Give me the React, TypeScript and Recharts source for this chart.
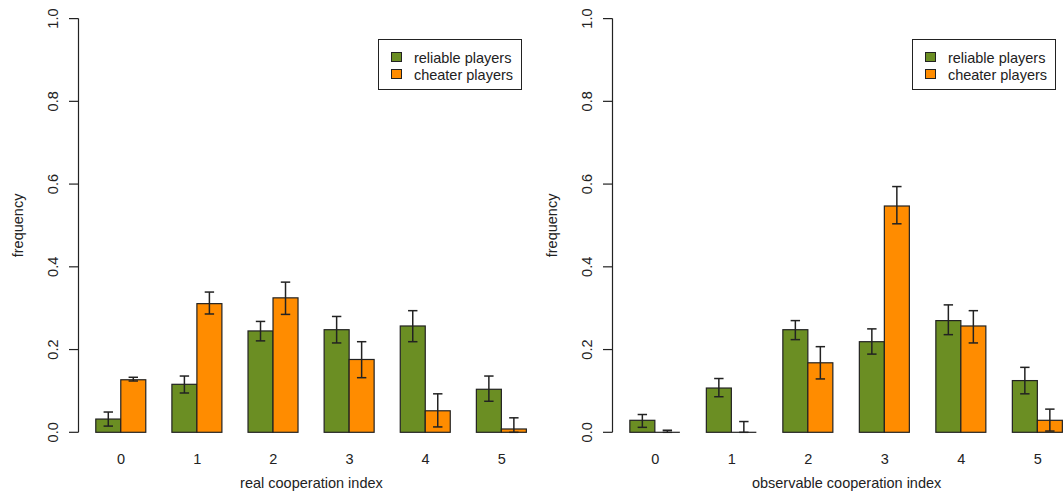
import React from 'react';
import { BarChart, Bar, XAxis, YAxis, ErrorBar, Legend } from 'recharts';

const categories = ['0', '1', '2', '3', '4', '5'];
const yTicks = [0, 0.2, 0.4, 0.6, 0.8, 1.0];

// Left panel: real cooperation index
const realReliable = [0.032, 0.116, 0.245, 0.248, 0.257, 0.104];
const realReliableLow = [0.015, 0.095, 0.221, 0.216, 0.219, 0.075];
const realReliableHigh = [0.049, 0.136, 0.268, 0.280, 0.294, 0.136];
const realCheater = [0.127, 0.311, 0.325, 0.176, 0.052, 0.008];
const realCheaterLow = [0.124, 0.286, 0.285, 0.132, 0.013, 0.0];
const realCheaterHigh = [0.133, 0.339, 0.363, 0.219, 0.093, 0.035];

// Right panel: observable cooperation index
const obsReliable = [0.029, 0.107, 0.248, 0.219, 0.270, 0.125];
const obsReliableLow = [0.012, 0.086, 0.224, 0.189, 0.236, 0.093];
const obsReliableHigh = [0.043, 0.130, 0.270, 0.250, 0.308, 0.157];
const obsCheater = [0.0, 0.0, 0.168, 0.547, 0.257, 0.029];
const obsCheaterLow = [0.0, 0.0, 0.129, 0.504, 0.216, 0.003];
const obsCheaterHigh = [0.005, 0.026, 0.207, 0.594, 0.294, 0.056];

const GREEN = '#6B8E23';
const ORANGE = '#FF8C00';
const INK = '#222';
const FONT = '"Liberation Sans", Arial, sans-serif';
const FS = 14.5;

function build(g: number[], gl: number[], gh: number[], o: number[], ol: number[], oh: number[]) {
  return categories.map((c, i) => ({
    cat: c,
    reliable: g[i],
    relErr: [g[i] - gl[i], gh[i] - g[i]],
    cheater: o[i],
    cheErr: [o[i] - ol[i], oh[i] - o[i]],
  }));
}

const realData = build(realReliable, realReliableLow, realReliableHigh, realCheater, realCheaterLow, realCheaterHigh);
const obsData = build(obsReliable, obsReliableLow, obsReliableHigh, obsCheater, obsCheaterLow, obsCheaterHigh);

const BarShape = (props: any) => {
  const { x, y, width, height, fill } = props;
  if (!height || Math.abs(height) < 0.5) {
    return <line x1={x} x2={x + width} y1={y} y2={y} stroke={INK} strokeWidth={1.2} />;
  }
  return <rect x={x} y={y} width={width} height={height} fill={fill} stroke={INK} strokeWidth={1.2} />;
};

const YTick = (props: any) => {
  const { x, y, payload } = props;
  return (
    <text
      transform={`translate(${x - 16},${y}) rotate(-90)`}
      textAnchor="middle"
      dy="0.355em"
      fill={INK}
      style={{ fontFamily: FONT, fontSize: FS }}
    >
      {Number(payload.value).toFixed(1)}
    </text>
  );
};

const XTick = (props: any) => {
  const { x, y, payload } = props;
  return (
    <text x={x} y={y + 31.7} textAnchor="middle" fill={INK} style={{ fontFamily: FONT, fontSize: FS }}>
      {payload.value}
    </text>
  );
};

const LegendBox = () => (
  <div
    style={{
      boxSizing: 'border-box',
      width: 144,
      height: 51.5,
      border: `1.2px solid ${INK}`,
      position: 'relative',
      fontFamily: FONT,
      fontSize: FS,
      color: INK,
      background: '#fff',
    }}
  >
    {[
      { name: 'reliable players', color: GREEN, cy: 18 },
      { name: 'cheater players', color: ORANGE, cy: 35.3 },
    ].map((it) => (
      <div key={it.name}>
        <div
          style={{
            position: 'absolute',
            left: 12,
            top: it.cy - 5.5,
            width: 11,
            height: 10,
            boxSizing: 'border-box',
            background: it.color,
            border: `1.2px solid ${INK}`,
          }}
        />
        <div style={{ position: 'absolute', left: 34.5, top: it.cy - 9, lineHeight: '18px', whiteSpace: 'nowrap' }}>
          {it.name}
        </div>
      </div>
    ))}
  </div>
);

function Panel({ data, xTitle, left, rightMargin }: { data: any[]; xTitle: string; left: number; rightMargin: number }) {
  return (
    <div style={{ position: 'absolute', left, top: 0 }}>
      <BarChart
        width={560}
        height={504}
        data={data}
        margin={{ top: 18.6, right: rightMargin, bottom: 0, left: 0 }}
        barCategoryGap="16.667%"
        barGap={0}
      >
        <XAxis
          dataKey="cat"
          axisLine={false}
          tickLine={false}
          tickSize={0}
          tickMargin={0}
          height={71.7}
          padding={{ left: 4.6, right: 4.6 }}
          tick={<XTick />}
          interval={0}
          label={{
            content: (p: any) => {
              const vb = p.viewBox || {};
              return (
                <text
                  x={vb.x + vb.width / 2}
                  y={vb.y + 55.7}
                  textAnchor="middle"
                  fill={INK}
                  style={{ fontFamily: FONT, fontSize: FS }}
                >
                  {xTitle}
                </text>
              );
            },
          }}
        />
        <YAxis
          type="number"
          domain={[0, 1]}
          ticks={yTicks}
          width={78.5}
          tickSize={9.5}
          tickMargin={0}
          axisLine={{ stroke: INK, strokeWidth: 1.2 }}
          tickLine={{ stroke: INK, strokeWidth: 1.2 }}
          tick={<YTick />}
          interval={0}
          label={{
            content: (p: any) => {
              const vb = p.viewBox || {};
              const cx = vb.x + vb.width - 59.5;
              const cy = vb.y + vb.height / 2;
              return (
                <text
                  transform={`translate(${cx},${cy}) rotate(-90)`}
                  textAnchor="middle"
                  dy="0.3em"
                  fill={INK}
                  style={{ fontFamily: FONT, fontSize: FS }}
                >
                  frequency
                </text>
              );
            },
          }}
        />
        <Legend
          layout="vertical"
          align="center"
          verticalAlign="middle"
          content={<LegendBox />}
          wrapperStyle={{ position: 'absolute', left: 378.4, top: 38.5, width: 144, height: 52, bottom: 'auto', right: 'auto', margin: 0 }}
        />
        <Bar dataKey="reliable" name="reliable players" fill={GREEN} shape={<BarShape />} isAnimationActive={false}>
          <ErrorBar dataKey="relErr" width={4.7} stroke={INK} strokeWidth={1.5} direction="y" />
        </Bar>
        <Bar dataKey="cheater" name="cheater players" fill={ORANGE} shape={<BarShape />} isAnimationActive={false}>
          <ErrorBar dataKey="cheErr" width={4.7} stroke={INK} strokeWidth={1.5} direction="y" />
        </Bar>
      </BarChart>
    </div>
  );
}

export default function App() {
  return (
    <div
      style={{
        position: 'absolute',
        left: 0,
        top: 0,
        width: 1064,
        height: 504,
        overflow: 'hidden',
        background: '#fff',
      }}
    >
      <Panel data={realData} xTitle="real cooperation index" left={0} rightMargin={15.6} />
      <Panel data={obsData} xTitle="observable cooperation index" left={534} rightMargin={13.3} />
    </div>
  );
}
